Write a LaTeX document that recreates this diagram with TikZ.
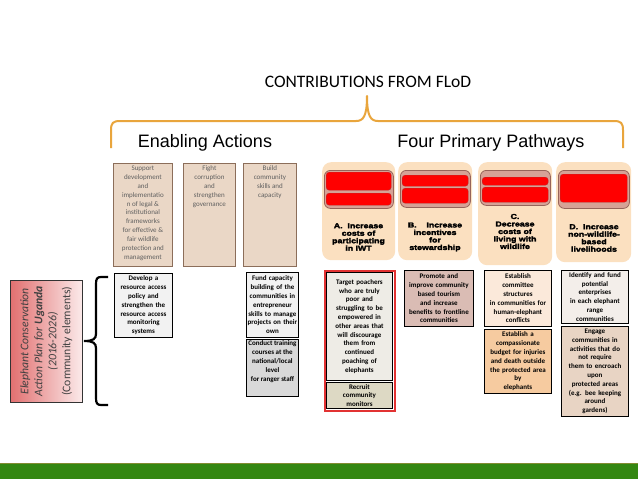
\documentclass[tikz,border=0pt]{standalone}
\usepackage{fontspec}
\setmainfont{Carlito}
\newfontfamily\arialf{Liberation Sans}
\newfontfamily\heavy[BoldFeatures={FakeBold=3,FakeStretch=1.22}]{Liberation Sans}
\usetikzlibrary{shadings}
\definecolor{braceor}{RGB}{233,165,60}
\definecolor{tanfill}{RGB}{234,215,198}
\definecolor{tanborder}{RGB}{140,110,90}
\definecolor{tantext}{RGB}{95,95,95}
\definecolor{cardfill}{RGB}{251,224,192}
\definecolor{hdrfill}{RGB}{214,162,150}
\definecolor{hdrborder}{RGB}{150,100,90}
\definecolor{redbar}{RGB}{255,0,0}
\definecolor{redborder}{RGB}{190,40,40}
\definecolor{pinkL}{RGB}{226,112,112}
\definecolor{pinkR}{RGB}{251,234,234}
\definecolor{lightgray}{RGB}{242,242,242}
\definecolor{midgray}{RGB}{217,217,217}
\definecolor{targetfill}{RGB}{238,236,230}
\definecolor{recruitfill}{RGB}{221,217,196}
\definecolor{promotefill}{RGB}{218,188,180}
\definecolor{commfill}{RGB}{251,233,218}
\definecolor{compfill}{RGB}{246,203,160}
\definecolor{identfill}{RGB}{243,238,234}
\definecolor{engagefill}{RGB}{232,212,196}
\definecolor{framered}{RGB}{226,50,50}
\definecolor{greenbar}{RGB}{52,135,18}
\definecolor{greenline}{RGB}{130,140,50}
\definecolor{plantext}{RGB}{64,64,64}
\newcommand\bxfont{\fontsize{7}{8.8}\selectfont\bfseries}
\newcommand\tanfont{\fontsize{7}{8.9}\selectfont}
\newcommand\cardfont{\heavy\bfseries\fontsize{7.2}{7.5}\selectfont}
\tikzset{
  tanbox/.style={draw=tanborder, fill=tanfill, line width=0.8pt, anchor=north west, inner sep=0pt, font=\tanfont, text=tantext},
  tbox/.style={draw=black, line width=0.9pt, anchor=north west, inner sep=0.5pt, align=center, font=\bxfont},
  card/.style={fill=cardfill, rounded corners=9pt, anchor=north west, inner sep=0pt},
  hdr/.style={draw=hdrborder, fill=hdrfill, line width=0.8pt, rounded corners=6pt, anchor=north west, inner sep=0pt},
  rbar/.style={draw=redborder, fill=redbar, line width=0.4pt, rounded corners=3pt, anchor=north west, inner sep=0pt},
  cardtext/.style={align=center, font=\cardfont, inner sep=0pt},
  heading/.style={font=\arialf\fontsize{18}{20}\selectfont},
}
\begin{document}
\begin{tikzpicture}[x=1pt,y=-1pt]
\path[use as bounding box, fill=white] (0,0) rectangle (638,479);

% title and orange brace
\node[font=\fontsize{17.5}{20}\selectfont] (title) at (368,82) {CONTRIBUTIONS FROM FLoD};
\draw[braceor, line width=2pt, line join=round] (111,148) -- (111,130) .. controls (111,123) and (113,121) .. (120,121) -- (356,121) .. controls (363,121) and (367,117) .. (367,96) .. controls (367,117) and (371,121) .. (378,121) -- (614,121) .. controls (621,121) and (623,123) .. (623,130) -- (623,148);

\node[heading] (enabling) at (205,143) {Enabling Actions};
\node[heading] (pathways) at (491,143) {Four Primary Pathways};

% enabling action boxes
\node[tanbox] (support) at (113,163) {\parbox[c][103pt][t]{59pt}{\centering\vspace{2.5pt}Support\\development\\and\\implementatio\\n of legal \&\\institutional\\frameworks\\for effective \&\\fair wildlife\\protection and\\management}};
\node[tanbox] (fight) at (183,163) {\parbox[c][103pt][t]{52pt}{\centering\vspace{2.5pt}Fight\\corruption\\and\\strengthen\\governance}};
\node[tanbox] (build) at (243,163) {\parbox[c][103pt][t]{53pt}{\centering\vspace{2.5pt}Build\\community\\skills and\\capacity}};

% pathway cards
\node[card, minimum width=73pt, minimum height=98pt] (cardA) at (322,162) {};
\node[card, minimum width=74pt, minimum height=98pt] (cardB) at (398,162) {};
\node[card, minimum width=74pt, minimum height=103pt] (cardC) at (478,162) {};
\node[card, minimum width=75pt, minimum height=100pt] (cardD) at (556,162) {};

\node[hdr, minimum width=69pt, minimum height=38pt] (hdrA) at (324,170) {};
\node[rbar, minimum width=65pt, minimum height=18pt] (barA1) at (326,172) {};
\node[rbar, minimum width=65pt, minimum height=12pt] (barA2) at (326,193) {};

\node[hdr, minimum width=70pt, minimum height=37pt] (hdrB) at (400,170) {};
\node[rbar, minimum width=66pt, minimum height=11pt] (barB1) at (402,175) {};
\node[rbar, minimum width=66pt, minimum height=15pt] (barB2) at (402,188) {};

\node[hdr, minimum width=70pt, minimum height=35pt] (hdrC) at (480,170) {};
\node[rbar, minimum width=66pt, minimum height=8pt] (barC1) at (482,177) {};
\node[rbar, minimum width=66pt, minimum height=15pt] (barC2) at (482,187) {};

\node[hdr, minimum width=71pt, minimum height=38pt] (hdrD) at (558,170) {};
\node[rbar, minimum width=67pt, minimum height=28pt] (barD) at (560,174) {};

\node[cardtext] (textA) at (358.5,237) {A.~~Increase\\costs of\\participating\\in IWT};
\node[cardtext] (textB) at (435,237) {B.~~~~Increase\\incentives\\for\\stewardship};
\node[cardtext] (textC) at (515,231.5) {C.\\Decrease\\costs of\\living with\\wildlife};
\node[cardtext] (textD) at (594,238) {D.~~Increase\\non-wildlife-\\based\\livelihoods};

% plan box and black brace
\node[draw=black!80, line width=0.6pt, left color=pinkL, right color=pinkR, anchor=north west, minimum width=72pt, minimum height=122pt, inner sep=0pt] (plan) at (10,280) {};
\node[rotate=90, align=center, text=plantext, font=\fontsize{11.7}{14}\selectfont] (plantext) at (plan.center) {\itshape Elephant Conservation\\\itshape Action Plan for \textbf{Uganda}\\\itshape (2016-2026)\\(Community elements)};
\coordinate (bracetip) at (84,341);
\draw[line width=2.2pt] (108,277) -- (101,277) .. controls (97,277) and (96,279) .. (96,284) -- (96,334) .. controls (96,339) and (93,341) .. (bracetip) .. controls (93,341) and (96,343) .. (96,348) -- (96,398) .. controls (96,403) and (97,405) .. (101,405) -- (108,405);

% community element boxes
\node[tbox, fill=lightgray, minimum width=58pt, minimum height=64pt, text width=56pt] (develop) at (114,273) {Develop a\\resource access\\policy and\\strengthen the\\resource access\\monitoring\\systems};
\node[tbox, fill=lightgray, minimum width=52pt, minimum height=65pt, text width=51pt] (fund) at (246,272) {Fund capacity\\building of the\\communities in\\entrepreneur\\skills to manage\\projects on their\\own};
\node[tbox, fill=midgray, inner sep=0pt] (conduct) at (246,339) {\parbox[c][57pt][t]{52pt}{\centering\vspace{1.5pt}Conduct training\\courses at the\\national/local\\level\\for ranger staff}};

\node[draw=framered, line width=2pt, anchor=north west, minimum width=70pt, minimum height=140pt, inner sep=0pt] (redframe) at (324,270) {};
\node[tbox, fill=targetfill, minimum width=66pt, minimum height=108pt, text width=64pt] (target) at (326,272) {Target poachers\\who are truly\\poor and\\struggling to be\\empowered in\\other areas that\\will discourage\\them from\\continued\\poaching of\\elephants};
\node[tbox, fill=recruitfill, minimum width=66pt, minimum height=26pt, text width=64pt] (recruit) at (326,382) {Recruit\\community\\monitors};

\node[tbox, fill=promotefill, minimum width=69pt, minimum height=56pt, text width=67pt] (promote) at (404,270) {Promote and\\improve community\\based tourism\\and increase\\benefits to frontline\\communities};
\node[tbox, fill=commfill, minimum width=67pt, minimum height=56pt, text width=65pt] (committee) at (484,270) {Establish\\committee\\structures\\in communities for\\human-elephant\\conflicts};
\node[tbox, fill=compfill, minimum width=67pt, minimum height=64pt, text width=65pt] (compassion) at (484,329) {Establish a\\compassionate\\budget for injuries\\and death outside\\the protected area\\by\\elephants};
\node[tbox, fill=identfill, minimum width=67pt, minimum height=53pt, text width=65pt] (identify) at (561,270) {Identify and fund\\potential\\enterprises\\in each elephant\\range\\communities};
\node[tbox, fill=engagefill, minimum width=67pt, minimum height=90pt, text width=65pt] (engage) at (561,326) {Engage\\communities in\\activities that do\\not require\\them to encroach\\upon\\protected areas\\(e.g. bee keeping\\around\\gardens)};

% green footer bar
\fill[greenbar] (0,463) rectangle (638,479);
\draw[greenline, line width=0.6pt] (0,463.3) -- (638,463.3);
\end{tikzpicture}
\end{document}
